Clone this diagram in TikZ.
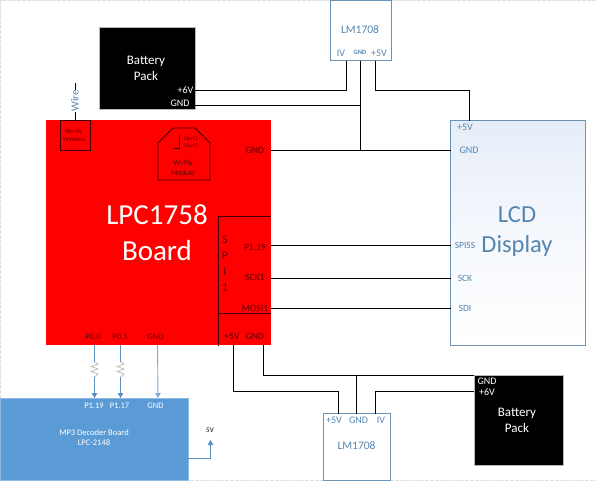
\documentclass[tikz,border=0pt]{standalone}
\usepackage{fontspec}
\setmainfont{Carlito}
\usetikzlibrary{arrows.meta}
\definecolor{bluetxt}{HTML}{5585B0}
\definecolor{blueln}{HTML}{6B93B5}
\definecolor{mpfill}{HTML}{5B9BD5}
\definecolor{mparrow}{HTML}{5A8FC0}
\definecolor{darkred}{HTML}{5E0000}
\definecolor{lcdtop}{HTML}{E6EDF8}
\tikzset{
  x=1pt,y=-1pt,
  bx/.style={anchor=north west,inner sep=0pt,outer sep=0pt},
  whitebox/.style={bx,draw=blueln,line width=0.9pt,fill=white},
  blackbox/.style={bx,draw=black!28,line width=0.8pt,fill=black},
  wire/.style={draw=black,line width=0.9pt},
  inboard/.style={draw=black!75!red,line width=0.8pt},
  txt/.style={inner sep=0pt,outer sep=0pt,align=center},
  pinb/.style={txt,text=bluetxt,font=\fontsize{10}{11}\selectfont},
  pinw/.style={txt,text=white,font=\fontsize{10}{11}\selectfont},
  pinr/.style={txt,text=darkred,font=\fontsize{9.6}{11}\selectfont},
  pinm/.style={txt,text=white,font=\fontsize{8.5}{10}\selectfont},
  arr/.style={draw=mparrow,line width=0.9pt,-{Triangle[length=5pt,width=5.5pt]}},
  res/.style={draw=black!25,line width=0.8pt},
}
\begin{document}
\begin{tikzpicture}
\useasboundingbox (0,0) rectangle (596,482);
\fill[white] (0,0) rectangle (596,482);
\draw[black!12,line width=1pt,dash pattern=on 4pt off 1pt] (596,0.5) -- (0.5,0.5) -- (0.5,480.5) -- (596,480.5);

% boxes
\node[bx,fill=red,minimum width=225pt,minimum height=225pt] (board) at (45.5,120) {};
\node[blackbox,minimum width=96pt,minimum height=82pt] (bat1) at (99,27) {};
\node[whitebox,minimum width=60.5pt,minimum height=60pt] (lm1) at (330.5,0.5) {};
\node[bx,draw=blueln,line width=0.9pt,top color=lcdtop,bottom color=white,middle color=white!60!lcdtop,minimum width=135pt,minimum height=225pt] (lcd) at (450.5,120.5) {};
\node[bx,fill=mpfill,draw=mpfill!70!white,line width=0.6pt,minimum width=187.5pt,minimum height=82pt] (mp3) at (0.5,398) {};
\node[whitebox,minimum width=67pt,minimum height=67pt] (lm2) at (323.5,413.5) {};
\node[blackbox,minimum width=89pt,minimum height=90pt] (bat2) at (474,375) {};
\node[bx,draw=black!75!red,line width=0.8pt,minimum width=30pt,minimum height=30pt] (nordic) at (60.5,120) {};

% wifi module outline
\draw[inboard] (158,180) -- (158,143) -- (173,128) -- (195,128) -- (210,143) -- (210,180) -- cycle;
\draw[inboard] (179,135) -- (179,148) -- (173,148);
% SPI bracket
\draw[inboard] (271,216) -- (218.5,216) -- (218.5,346);
\draw[inboard] (218.5,313) -- (271,313);

% pin coordinates
\coordinate (b1p) at (195,90);
\coordinate (b1g) at (195,105);
\coordinate (l1v) at (346,60.5);
\coordinate (l1g) at (360.5,60.5);
\coordinate (l1f) at (375.5,60.5);
\coordinate (lcdf) at (469,120.5);
\coordinate (lcdg) at (450.5,150);
\coordinate (brdg) at (270.5,150);
\coordinate (brdp) at (270.5,245);
\coordinate (lcds) at (450.5,245);
\coordinate (brdk) at (270.5,278);
\coordinate (lcdk) at (450.5,278);
\coordinate (brdm) at (270.5,308);
\coordinate (lcdm) at (450.5,308);
\coordinate (brd5) at (233.5,345);
\coordinate (brdG) at (263.5,345);
\coordinate (l25) at (338,413.5);
\coordinate (l2g) at (356.5,413.5);
\coordinate (l2v) at (375.5,413.5);
\coordinate (b2g) at (474,375);
\coordinate (b2p) at (474,391);
\coordinate (wtop) at (75,83);
\coordinate (nwt) at (75,120);
\coordinate (mpr) at (188,458);
\coordinate (fivev) at (210.5,440);
\coordinate (r1a) at (94.5,345);
\coordinate (r1b) at (94.5,398);
\coordinate (r2a) at (120.5,345);
\coordinate (r2b) at (120.5,398);
\coordinate (g3a) at (157.5,345);
\coordinate (g3b) at (158,398);

% wires
\draw[wire] (b1p) -| (l1v);
\draw[wire] (l1g) |- (lcdg);
\draw[wire] (brdg) -- (lcdg);
\draw[wire] (b1g) -- (b1g -| l1g);
\draw[wire] (l1f) |- (375.5,90) -| (lcdf);
\draw[wire] (brdp) -- (lcds);
\draw[wire] (brdk) -- (lcdk);
\draw[wire] (brdm) -- (lcdm);
\draw[wire] (brd5) |- (338,391) -- (l25);
\draw[wire] (brdG) |- (b2g);
\draw[wire] (l2g) -- (l2g |- b2g);
\draw[wire] (l2v) |- (b2p);

% wire antenna
\node[txt,rotate=90,text=bluetxt,font=\fontsize{11}{12}\selectfont] (wirelbl) at (75,101) {Wire};
\draw[wire] (wtop) -- (wirelbl.east);
\draw[wire] (wirelbl.west) -- (nwt);

% MP3 links with resistors
\draw[draw=mparrow,line width=0.9pt] (r1a) -- (94.5,362);
\draw[res] (94.5,362) -- (98,364) -- (91,366.5) -- (98,369) -- (91,371.5) -- (98,374) -- (94.5,377);
\draw[arr] (94.5,377) -- (r1b);
\draw[draw=mparrow,line width=0.9pt] (r2a) -- (120.5,362);
\draw[res] (120.5,362) -- (124,364) -- (117,366.5) -- (124,369) -- (117,371.5) -- (124,374) -- (120.5,377);
\draw[arr] (120.5,377) -- (r2b);
\draw[arr,draw=mparrow!75!white] (g3a) -- (g3b);
\draw[arr] (mpr) -| (fivev);

% labels
\node[txt,text=white,font=\fontsize{29}{36}\selectfont] (lpc) at (157,233) {LPC1758\\Board};
\node[txt,text=bluetxt,font=\fontsize{24.5}{30}\selectfont] (lcdt) at (517,232) {LCD\\Display};
\node[txt,text=white,font=\fontsize{13}{16}\selectfont] (bt1) at (146,68) {Battery\\Pack};
\node[txt,text=white,font=\fontsize{13}{16}\selectfont] (bt2) at (517,420) {Battery\\Pack};
\node[txt,text=bluetxt,font=\fontsize{11.5}{13}\selectfont] (lmt1) at (360,30) {LM1708};
\node[txt,text=bluetxt,font=\fontsize{11.5}{13}\selectfont] (lmt2) at (356.5,446) {LM1708};

\node[pinw] (a1) at (185.5,90) {+6V};
\node[pinw] (a2) at (180,103) {GND};
\node[pinw] (a3) at (487,381) {GND};
\node[pinw] (a4) at (487,392) {+6V};

\node[pinb] (c1) at (341,53) {IV};
\node[pinb,font=\fontsize{6.5}{7}\selectfont\bfseries] (c2) at (360,52) {GND};
\node[pinb] (c3) at (379,53) {+5V};
\node[pinb] (c4) at (334,420) {+5V};
\node[pinb] (c5) at (358.5,420) {GND};
\node[pinb] (c6) at (381,420) {IV};
\node[pinb] (d1) at (465,127) {+5V};
\node[pinb] (d2) at (469,150) {GND};
\node[pinb,font=\fontsize{9.5}{10}\selectfont] (d3) at (465,245) {SPISS};
\node[pinb,font=\fontsize{9.5}{10}\selectfont] (d4) at (465,278) {SCK};
\node[pinb,font=\fontsize{9.5}{10}\selectfont] (d5) at (465,308) {SDI};

\node[pinr] (e1) at (255,150) {GND};
\node[pinr,font=\fontsize{12}{16}\selectfont] (e2) at (225,264) {S\\P\\I\\1};
\node[pinr] (e3) at (255,247) {P1.19};
\node[pinr] (e4) at (255,277) {SCK1};
\node[pinr] (e5) at (255,308) {MOSI1};
\node[pinr] (e6) at (232,336) {+5V};
\node[pinr] (e7) at (255,336) {GND};
\node[pinr,font=\fontsize{8.5}{10}\selectfont] (e8) at (93,337) {P0.0};
\node[pinr,font=\fontsize{8.5}{10}\selectfont] (e9) at (120,337) {P0.1};
\node[pinr,font=\fontsize{8.5}{10}\selectfont] (e10) at (155.5,337) {GND};
\node[pinr,font=\fontsize{6.5}{8}\selectfont] (e11) at (74,135) {Nordic\\Wireless};
\node[pinr,font=\fontsize{6}{7}\selectfont] (e12) at (191,142.5) {Uart2\\Uart3};
\node[pinr,font=\fontsize{7.5}{10}\selectfont] (e13) at (183,168) {Wi-Fly\\Module};

\node[pinm] (f1) at (94,405.5) {P1.19};
\node[pinm] (f2) at (119.5,405.5) {P1.17};
\node[pinm] (f3) at (155.5,405.5) {GND};
\node[pinm,font=\fontsize{8.5}{10}\selectfont] (f4) at (94,438) {MP3 Decoder Board\\LPC-2148};
\node[txt,text=black,font=\fontsize{7}{8}\selectfont] (f5) at (210,430) {5V};
\end{tikzpicture}
\end{document}
